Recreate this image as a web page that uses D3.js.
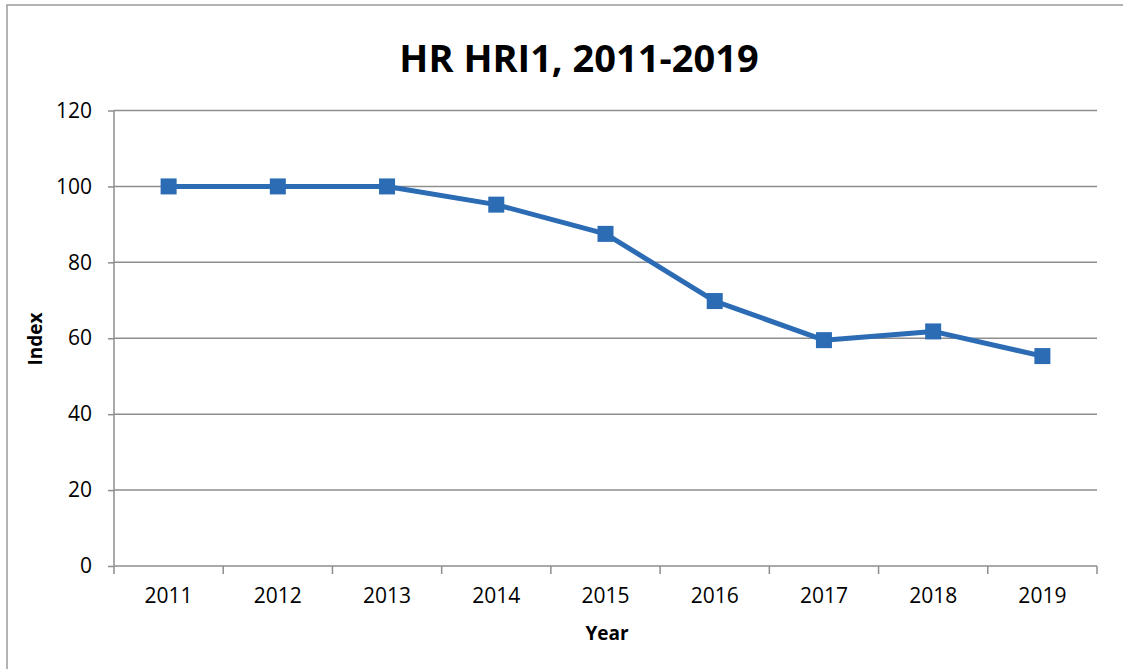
<!DOCTYPE html>
<meta charset="utf-8">
<style>
body { margin: 0; background: #fff; }
svg { display: block; font-family: "Open Sans", sans-serif; }
.grid line { stroke: #8e8e8e; stroke-width: 1.5px; }
.axis path, .axis line { stroke: #8e8e8e; stroke-width: 1.5px; }
.axis text { fill: #000; font-size: 21px; font-family: "Open Sans", sans-serif; }
</style>
<body>
<script src="https://cdnjs.cloudflare.com/ajax/libs/d3/7.8.5/d3.min.js"></script>
<script>
var years = ["2011", "2012", "2013", "2014", "2015", "2016", "2017", "2018", "2019"];
var index = [100, 100, 100, 95.2, 87.5, 69.8, 59.5, 61.8, 55.3];
var yTicks = [0, 20, 40, 60, 80, 100, 120];

var W = 1123, H = 669;
var mLeft = 114, mRight = 1097, mTop = 110.5, mBottom = 566;

var svg = d3.select("body").append("svg").attr("width", W).attr("height", H);

// chart border (only top and left edge show)
svg.append("path").attr("d", "M7,669 V5 H1123")
  .attr("fill", "none").attr("stroke", "#9a9a9a").attr("stroke-width", 1.5);

var x = d3.scaleBand().domain(years).range([mLeft, mRight]);
var y = d3.scaleLinear().domain([0, 120]).range([mBottom, mTop]);

// gridlines
svg.append("g").attr("class", "grid")
  .selectAll("line").data(yTicks.filter(function(d) { return d > 0; })).enter().append("line")
  .attr("x1", mLeft).attr("x2", mRight)
  .attr("y1", function(d) { return y(d); }).attr("y2", function(d) { return y(d); });

// y axis
var yAxis = svg.append("g").attr("class", "axis")
  .attr("transform", "translate(" + mLeft + ",0)")
  .call(d3.axisLeft(y).tickValues(yTicks).tickSize(6).tickPadding(16));
yAxis.select(".domain").attr("d", "M0," + mTop + "V" + mBottom);

// x axis, ticks between categories
var xAxis = svg.append("g").attr("class", "axis")
  .attr("transform", "translate(0," + mBottom + ")")
  .call(d3.axisBottom(x).tickSize(0).tickPadding(22));
xAxis.select(".domain").attr("d", "M" + mLeft + ",0H" + mRight);
xAxis.selectAll(".bound").data(years.concat(["end"])).enter().append("line")
  .attr("class", "bound")
  .attr("x1", function(d, i) { return mLeft + i * x.step(); })
  .attr("x2", function(d, i) { return mLeft + i * x.step(); })
  .attr("y1", 0).attr("y2", 8);

var cx = function(d, i) { return x(years[i]) + x.bandwidth() / 2; };

svg.append("path").datum(index)
  .attr("fill", "none").attr("stroke", "#2b6cb5").attr("stroke-width", 5)
  .attr("stroke-linejoin", "round")
  .attr("d", d3.line().x(cx).y(function(d) { return y(d); }));

var s = 16;
svg.selectAll(".mark").data(index).enter().append("rect")
  .attr("class", "mark")
  .attr("x", function(d, i) { return cx(d, i) - s / 2; })
  .attr("y", function(d) { return y(d) - s / 2; })
  .attr("width", s).attr("height", s)
  .attr("fill", "#2b6cb5");

// titles
svg.append("text").attr("x", 579).attr("y", 72).attr("text-anchor", "middle")
  .attr("font-size", 38).attr("font-weight", "bold").text("HR HRI1, 2011-2019");
svg.append("text").attr("x", 607).attr("y", 640).attr("text-anchor", "middle")
  .attr("font-size", 19).attr("font-weight", "bold").text("Year");
svg.append("text").attr("transform", "translate(42,339) rotate(-90)").attr("text-anchor", "middle")
  .attr("font-size", 19).attr("font-weight", "bold").text("Index");
</script>
</body>
